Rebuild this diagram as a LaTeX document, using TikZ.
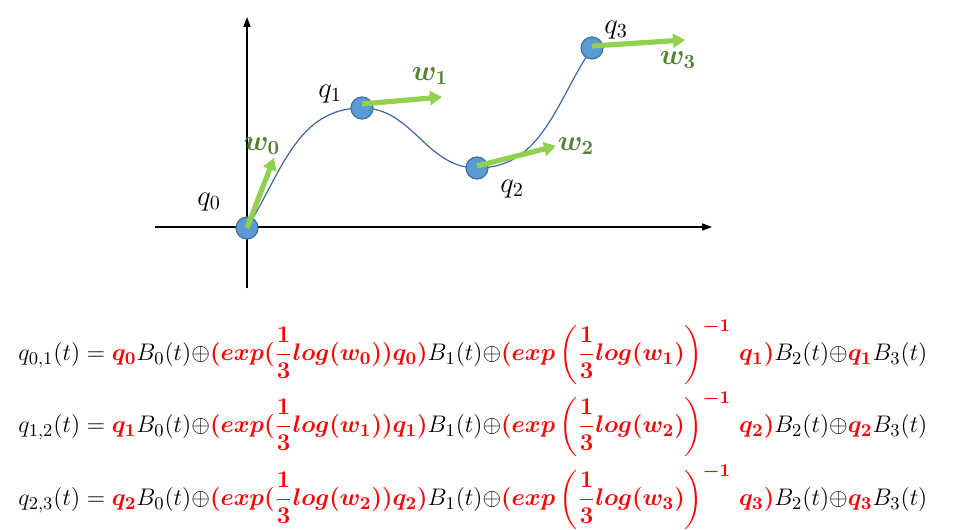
\documentclass[tikz,border=0pt]{standalone}
\usepackage{amsmath}
\usepackage{amssymb}
\usepackage{bm}
\usetikzlibrary{arrows.meta}
\definecolor{ptblue}{RGB}{91,155,213}
\definecolor{ptedge}{RGB}{65,113,156}
\definecolor{curveblue}{RGB}{62,100,160}
\definecolor{wgreen}{RGB}{146,208,80}
\definecolor{wlabel}{RGB}{84,130,53}
\definecolor{eqred}{RGB}{255,0,0}
\newcommand{\rd}[1]{\textcolor{eqred}{\bm{#1}}}
\tikzset{
  pt/.style={circle, fill=ptblue, draw=ptedge, line width=0.6pt, minimum size=11pt, inner sep=0pt},
  axis/.style={line width=0.6pt, -{Triangle[length=5pt,width=3.6pt]}},
  wvec/.style={wgreen, line width=2.6pt, -{Triangle[length=6pt,width=7pt]}},
  wname/.style={text=wlabel, font=\fontsize{14}{16}\selectfont},
  qname/.style={font=\fontsize{14}{16}\selectfont},
  eqn/.style={anchor=west, inner sep=0pt, font=\fontsize{12.3}{14}\selectfont}
}
\begin{document}
\begin{tikzpicture}[x=0.5pt, y=-0.5pt]
\useasboundingbox (0,0) rectangle (961,529);
\draw[axis] (155,227) -- (712,227);
\draw[axis] (247,288) -- (247,17);
\coordinate (c0) at (247,228);
\coordinate (c1) at (362,108);
\coordinate (c2) at (477,168);
\coordinate (c3) at (592,48);
\draw[curveblue, line width=0.6pt] (c0) to[out=58,in=180] (c1) to[out=0,in=180] (c2) to[out=0,in=236] (c3);
\foreach \i in {0,...,3}
  \node[pt] (q\i) at (c\i) {};
\coordinate (t0) at (274,158);
\coordinate (t1) at (442,97);
\coordinate (t2) at (556,146);
\coordinate (t3) at (685,40);
\draw[wvec] (q0.center) -- (t0);
\draw[wvec] ([yshift=2pt]q1.center) -- (t1);
\draw[wvec] ([yshift=1pt]q2.center) -- (t2);
\draw[wvec] ([yshift=1pt]q3.center) -- (t3);
\node[qname] (l0) at (209,202) {$q_0$};
\node[qname] (l1) at (330,94) {$q_1$};
\node[qname] (l2) at (512,189) {$q_2$};
\node[qname] (l3) at (616,30) {$q_3$};
\node[wname] (m0) at (262,146) {$\bm{w_0}$};
\node[wname] (m1) at (430,76) {$\bm{w_1}$};
\node[wname] (m2) at (576,146) {$\bm{w_2}$};
\node[wname] (m3) at (678,60) {$\bm{w_3}$};
% equations
\foreach \y/\a/\b in {352/0/1, 424/1/2, 497/2/3}
  \node[eqn] (e\a) at (18,\y) {$\displaystyle q_{\a,\b}(t) = \rd{q_\a}B_0(t){\oplus}\rd{(exp(\frac{1}{3}log(w_\a))q_\a)}B_1(t){\oplus}\rd{(exp\left(\frac{1}{3}log(w_\b)\right)^{-1}\,q_\b)}B_2(t){\oplus}\rd{q_\b}B_3(t)$};
\end{tikzpicture}
\end{document}
